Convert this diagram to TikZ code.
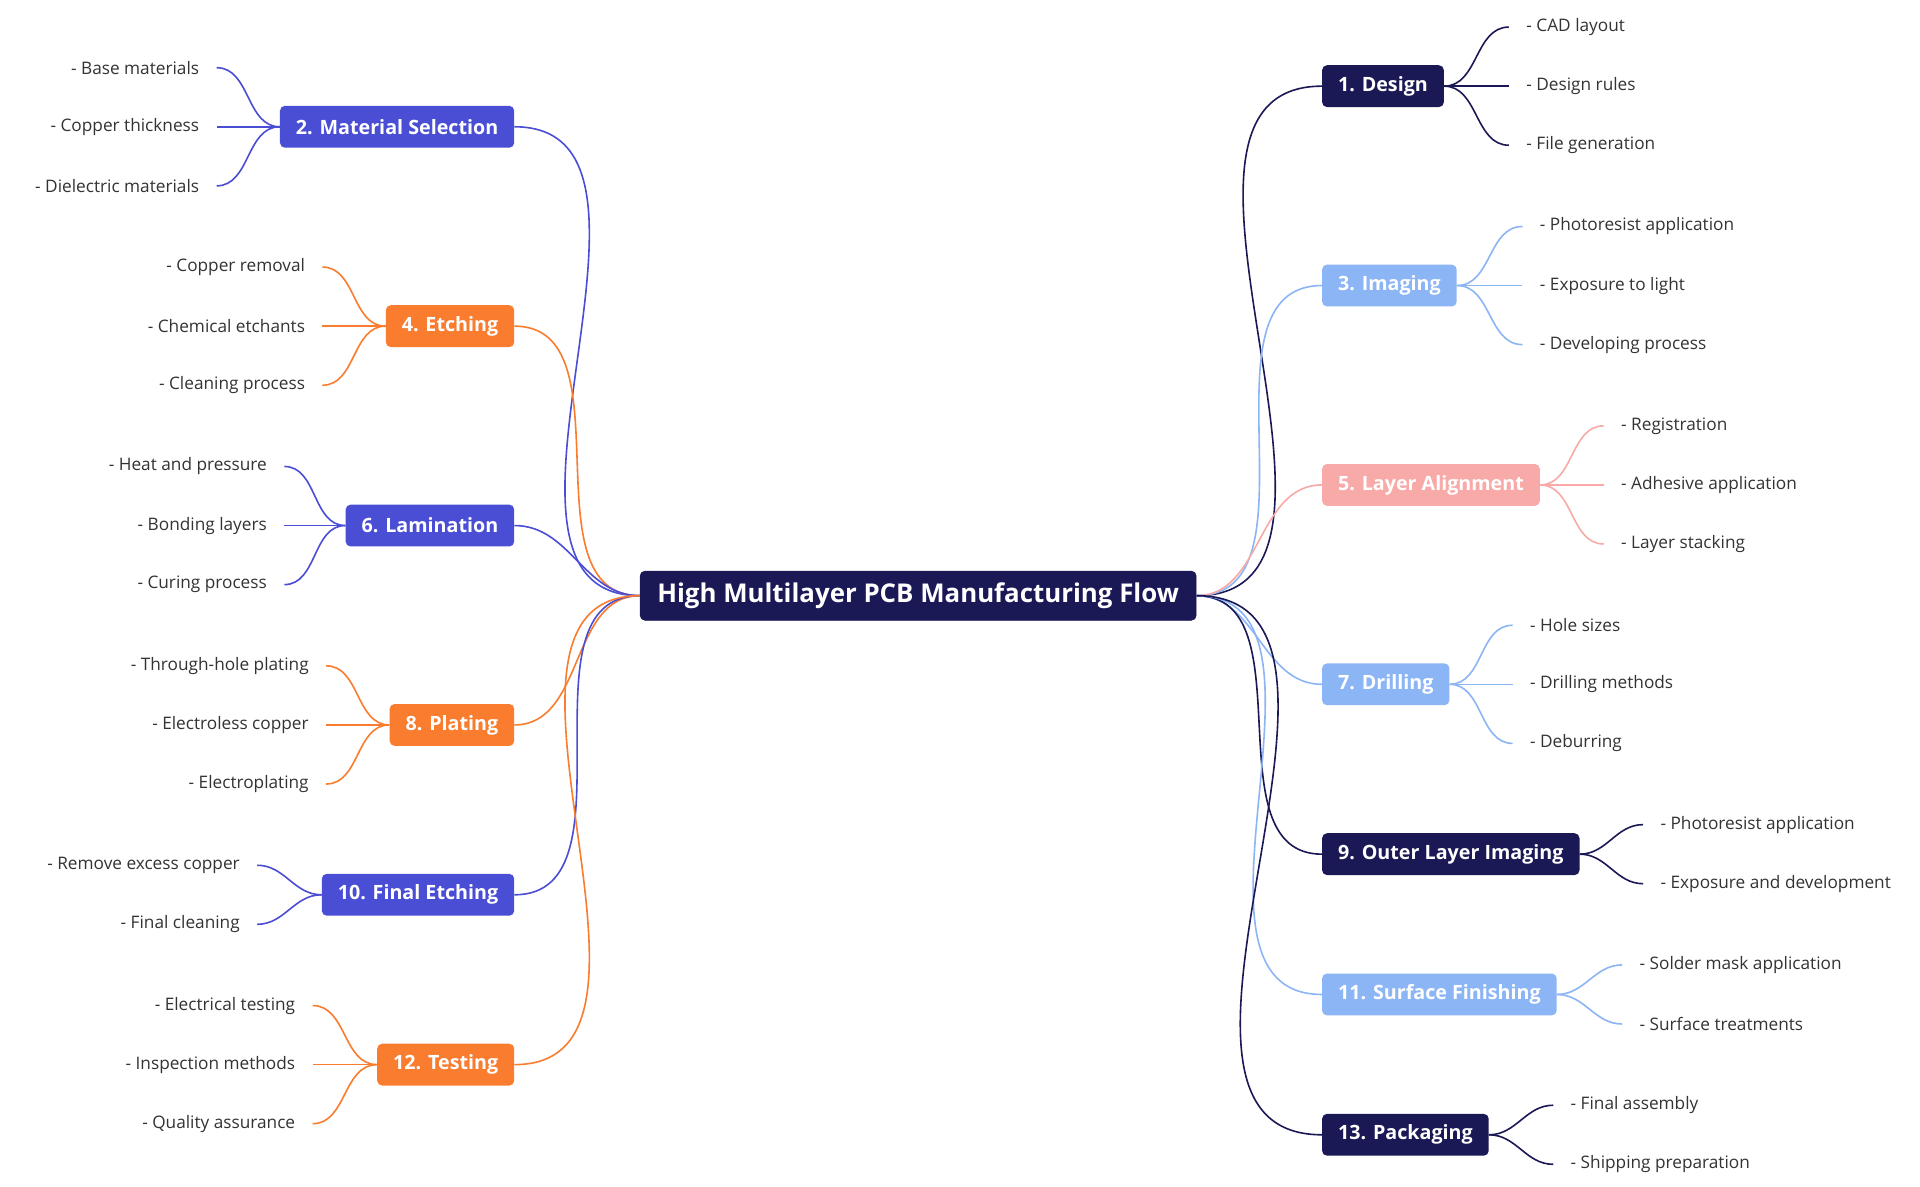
\documentclass[tikz,border=0pt]{standalone}
\usepackage{fontspec}
\setmainfont{Open Sans}
\usetikzlibrary{positioning}
\definecolor{navy}{HTML}{1B1856}
\definecolor{violet}{HTML}{4A4ED4}
\definecolor{tangerine}{HTML}{F97C2F}
\definecolor{sky}{HTML}{8CB5F5}
\definecolor{blush}{HTML}{F8AAA8}
\definecolor{leaftext}{HTML}{333333}

\tikzset{
  rootbox/.style={draw=navy, fill=navy, text=white, rounded corners=4pt, font=\fontsize{21}{24}\selectfont\bfseries, minimum height=40pt, inner xsep=14pt},
  branchbox/.style={fill=#1, text=white, rounded corners=4pt, font=\fontsize{16}{19}\selectfont\bfseries, minimum height=34pt, inner xsep=13pt},
  leaf/.style={text=leaftext, font=\fontsize{14}{17}\selectfont, inner sep=2pt},
  link/.style={draw=#1, line width=1.3pt}
}

\begin{document}
\begin{tikzpicture}[x=1pt,y=-1pt]
  \useasboundingbox (0,0) rectangle (1560,964);
  \fill[white] (0,0) rectangle (1560,964);

  \node[rootbox] (root) at (746,484) {High Multilayer PCB Manufacturing Flow};

  % right-hand branches
  \foreach \n/\y/\col/\txt in {b1/70/navy/1. Design, b3/232/sky/3. Imaging, b5/394/blush/5. Layer Alignment, b7/556/sky/7. Drilling, b9/694/navy/9. Outer Layer Imaging, b11/808/sky/11. Surface Finishing, b13/922/navy/13. Packaging} {
    \node[branchbox=\col, anchor=west] (\n) at (1074,\y) {\txt};
    \draw[link=\col] (root.east) to[out=0,in=180] (\n.west);
  }
  % left-hand branches
  \foreach \n/\y/\col/\txt in {b2/103/violet/2. Material Selection, b4/265/tangerine/4. Etching, b6/427/violet/6. Lamination, b8/589/tangerine/8. Plating, b10/727/violet/10. Final Etching, b12/865/tangerine/12. Testing} {
    \node[branchbox=\col, anchor=east] (\n) at (418,\y) {\txt};
    \draw[link=\col] (root.west) to[out=180,in=0] (\n.east);
  }

  % right-hand leaves
  \foreach \b/\x/\y/\col/\txt in {
    b1/1238/22/navy/CAD layout, b1/1238/70/navy/Design rules, b1/1238/118/navy/File generation,
    b3/1249/184/sky/Photoresist application, b3/1249/232/sky/Exposure to light, b3/1249/280/sky/Developing process,
    b5/1315/346/blush/Registration, b5/1315/394/blush/Adhesive application, b5/1315/442/blush/Layer stacking,
    b7/1241/508/sky/Hole sizes, b7/1241/556/sky/Drilling methods, b7/1241/604/sky/Deburring,
    b9/1347/670/navy/Photoresist application, b9/1347/718/navy/Exposure and development,
    b11/1330/784/sky/Solder mask application, b11/1330/832/sky/Surface treatments,
    b13/1274/898/navy/Final assembly, b13/1274/946/navy/Shipping preparation} {
    \node[leaf, anchor=west] (\b-\y) at (\x,\y) {- \txt};
    \draw[link=\col] (\b.east) to[out=0,in=180] ([xshift=-12pt]\b-\y.west);
  }
  % left-hand leaves
  \foreach \b/\x/\y/\col/\txt in {
    b2/164/55/violet/Base materials, b2/164/103/violet/Copper thickness, b2/164/151/violet/Dielectric materials,
    b4/250/217/tangerine/Copper removal, b4/250/265/tangerine/Chemical etchants, b4/250/313/tangerine/Cleaning process,
    b6/219/379/violet/Heat and pressure, b6/219/427/violet/Bonding layers, b6/219/475/violet/Curing process,
    b8/253/541/tangerine/Through-hole plating, b8/253/589/tangerine/Electroless copper, b8/253/637/tangerine/Electroplating,
    b10/197/703/violet/Remove excess copper, b10/197/751/violet/Final cleaning,
    b12/242/817/tangerine/Electrical testing, b12/242/865/tangerine/Inspection methods, b12/242/913/tangerine/Quality assurance} {
    \node[leaf, anchor=east] (\b-\y) at (\x,\y) {- \txt};
    \draw[link=\col] (\b.west) to[out=180,in=0] ([xshift=12pt]\b-\y.east);
  }
\end{tikzpicture}
\end{document}
